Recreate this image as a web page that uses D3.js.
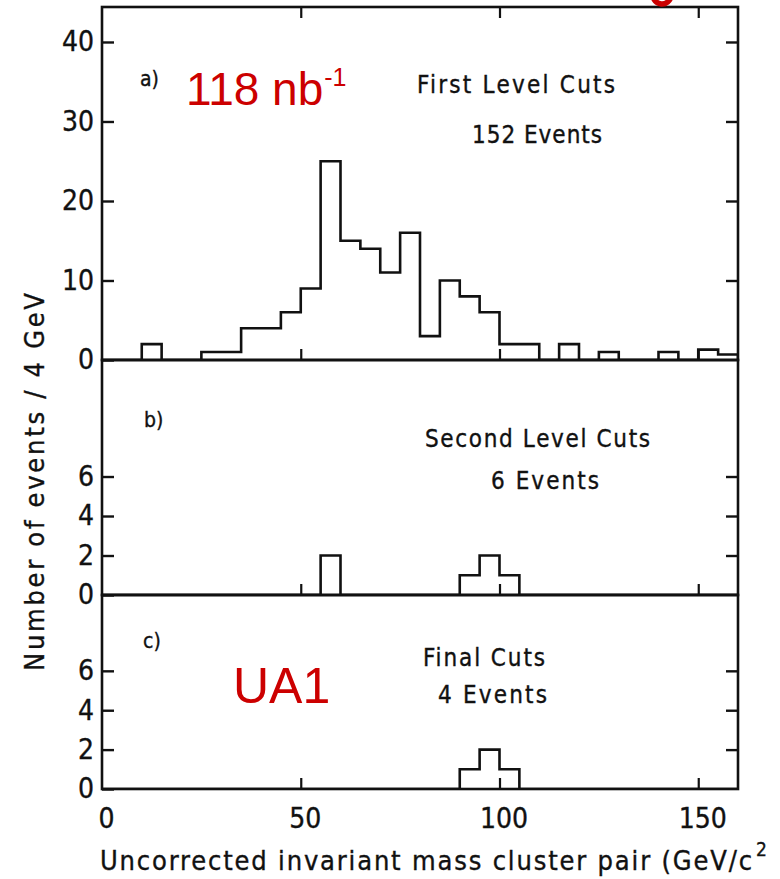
<!DOCTYPE html>
<html>
<head>
<meta charset="utf-8">
<script src="https://cdn.jsdelivr.net/npm/d3@7"></script>
<style>
  html, body { margin: 0; padding: 0; background: #fff; }
  svg { display: block; }
  .lett { font-family: "Liberation Sans Narrow", "DejaVu Sans Condensed", "DejaVu Sans", sans-serif; fill: #111; stroke: #111; stroke-width: 0.35px; }
  .red { font-family: "Liberation Sans", Arial, sans-serif; fill: #cc0000; }
</style>
</head>
<body>
<svg id="chart" width="780" height="879"></svg>
<script>
// ---------- data ----------
const binLowEdges = [0, 5, 10, 15, 20, 25, 30, 35, 40, 45, 50, 55, 60, 65, 70, 75,
                     80, 85, 90, 95, 100, 105, 110, 115, 120, 125, 130, 135, 140, 145, 150, 155];
const binUpperLimit = 160;
const countsFirstLevel = [0, 0, 2, 0, 0, 1, 1, 4, 4, 6, 9, 25, 15, 14, 11, 16,
                          3, 10, 8, 6, 2, 2, 0, 2, 0, 1, 0, 0, 1, 0, 1.3, 0.7];
const countsSecondLevel = [0, 0, 0, 0, 0, 0, 0, 0, 0, 0, 0, 2, 0, 0, 0, 0,
                           0, 0, 1, 2, 1, 0, 0, 0, 0, 0, 0, 0, 0, 0, 0, 0];
const countsFinal = [0, 0, 0, 0, 0, 0, 0, 0, 0, 0, 0, 0, 0, 0, 0, 0,
                     0, 0, 1, 2, 1, 0, 0, 0, 0, 0, 0, 0, 0, 0, 0, 0];
const xTicks = [0, 50, 100, 150];
const yTicksA = [0, 10, 20, 30, 40];
const yTicksBC = [0, 2, 4, 6];
const panelLabels = ["a)", "b)", "c)"];
const panelTitles = ["First Level Cuts", "Second Level Cuts", "Final Cuts"];
const panelEvents = ["152 Events", "6 Events", "4 Events"];

// ---------- layout ----------
const svg = d3.select("#chart");
const X0 = 102, X1 = 738;
const x = d3.scaleLinear().domain([0, 160]).range([X0, X1]);

const panels = [
  { counts: countsFirstLevel, top: 7, bottom: 360, ymax: 44.4, ticks: yTicksA,
    label: { x: 140, y: 86 }, title: { x: 417, y: 93, len: 198 }, events: { x: 472, y: 143, len: 130 }, topTicks: true },
  { counts: countsSecondLevel, top: 360, bottom: 595, ymax: 11.9, ticks: yTicksBC,
    label: { x: 144, y: 427 }, title: { x: 425, y: 447, len: 225 }, events: { x: 491, y: 489, len: 108 }, topTicks: false },
  { counts: countsFinal, top: 595, bottom: 789, ymax: 9.85, ticks: yTicksBC,
    label: { x: 143, y: 648 }, title: { x: 423, y: 666, len: 122 }, events: { x: 438, y: 703, len: 109 }, topTicks: false }
];

const ink = "#111";
const tickLen = 12;

panels.forEach((p, i) => {
  const y = d3.scaleLinear().domain([0, p.ymax]).range([p.bottom, p.top]);
  const g = svg.append("g");

  const cid = "clip" + i;
  svg.append("clipPath").attr("id", cid)
    .append("rect").attr("x", X0).attr("y", p.top).attr("width", X1 - X0).attr("height", p.bottom - p.top);

  // histogram (step)
  const pts = binLowEdges.map((e, k) => [e, p.counts[k]]);
  pts.unshift([0, 0]);
  pts.push([binUpperLimit, 0]);
  const line = d3.line().x(d => x(d[0])).y(d => y(d[1])).curve(d3.curveStepAfter);
  g.append("path").attr("d", line(pts))
    .attr("fill", "none").attr("stroke", ink).attr("stroke-width", 2.6)
    .attr("stroke-linejoin", "miter").attr("clip-path", `url(#${cid})`);

  // left axis (ticks inward)
  const left = d3.axisLeft(y).tickValues(p.ticks).tickSize(-tickLen).tickPadding(tickLen + 9).tickFormat(d3.format("d"));
  const gl = g.append("g").attr("transform", `translate(${X0},0)`).call(left);
  gl.select(".domain").remove();
  gl.selectAll(".tick line").attr("stroke", ink).attr("stroke-width", 2.4);
  gl.selectAll(".tick text").attr("class", "lett").attr("font-size", 28).attr("fill", ink)
    .attr("x", -8);

  // right axis ticks inward
  const right = d3.axisRight(y).tickValues(p.ticks.filter(v => v > 0)).tickSize(-tickLen).tickFormat("");
  const gr = g.append("g").attr("transform", `translate(${X1},0)`).call(right);
  gr.select(".domain").remove();
  gr.selectAll(".tick line").attr("stroke", ink).attr("stroke-width", 2.4);

  // bottom x ticks inward (up)
  const bottom = d3.axisBottom(x).tickValues(xTicks.filter(v => v > 0)).tickSize(-11).tickFormat("");
  const gb = g.append("g").attr("transform", `translate(0,${p.bottom})`).call(bottom);
  gb.select(".domain").remove();
  gb.selectAll(".tick line").attr("stroke", ink).attr("stroke-width", 2.2);

  if (p.topTicks) {
    const topAx = d3.axisTop(x).tickValues(xTicks.filter(v => v > 0)).tickSize(-11).tickFormat("");
    const gt = g.append("g").attr("transform", `translate(0,${p.top})`).call(topAx);
    gt.select(".domain").remove();
    gt.selectAll(".tick line").attr("stroke", ink).attr("stroke-width", 2.2);
  }

  // frame
  g.append("rect").attr("x", X0).attr("y", p.top).attr("width", X1 - X0).attr("height", p.bottom - p.top)
    .attr("fill", "none").attr("stroke", ink).attr("stroke-width", 2.6);

  // texts
  g.append("text").attr("class", "lett").attr("x", p.label.x).attr("y", p.label.y)
    .attr("font-size", 21).text(panelLabels[i]);
  g.append("text").attr("class", "lett").attr("x", p.title.x).attr("y", p.title.y)
    .attr("font-size", 24).attr("textLength", p.title.len).attr("lengthAdjust", "spacing").text(panelTitles[i]);
  g.append("text").attr("class", "lett").attr("x", p.events.x).attr("y", p.events.y)
    .attr("font-size", 24).attr("textLength", p.events.len).attr("lengthAdjust", "spacing").text(panelEvents[i]);
});

// x tick labels
const xl = d3.axisBottom(x).tickValues(xTicks).tickSize(0).tickPadding(0).tickFormat(d3.format("d"));
const gxl = svg.append("g").attr("transform", `translate(0,789)`).call(xl);
gxl.select(".domain").remove();
gxl.selectAll(".tick text").attr("class", "lett").attr("font-size", 28).attr("fill", ink)
  .attr("dy", null).attr("y", 39).attr("dx", 4);

// axis titles
svg.append("text").attr("class", "lett").attr("x", 100).attr("y", 870)
  .attr("font-size", 27).attr("textLength", 652).attr("lengthAdjust", "spacing")
  .text("Uncorrected invariant mass cluster pair (GeV/c");
svg.append("text").attr("class", "lett").attr("x", 756).attr("y", 856)
  .attr("font-size", 19).text("2");

svg.append("text").attr("class", "lett")
  .attr("transform", "translate(44,482) rotate(-90)")
  .attr("text-anchor", "middle")
  .attr("font-size", 27).attr("textLength", 378).attr("lengthAdjust", "spacing")
  .text("Number of events / 4 GeV");

// red annotations
const t118 = svg.append("text").attr("class", "red").attr("x", 186).attr("y", 105).attr("font-size", 46);
t118.append("tspan").text("118 nb");
t118.append("tspan").attr("font-size", 25).attr("dy", -19).attr("dx", 1).text("-1");

svg.append("text").attr("class", "red").attr("x", 233).attr("y", 703).attr("font-size", 50).text("UA1");

// cropped red glyph fragment at the top edge (drawn as a shape)
const frag = d3.path();
frag.arc(662, -5, 9, Math.PI * 0.05, Math.PI * 1.0);
svg.append("path").attr("d", frag.toString()).attr("fill", "none")
  .attr("stroke", "#cc0000").attr("stroke-width", 5.5);
</script>
</body>
</html>
